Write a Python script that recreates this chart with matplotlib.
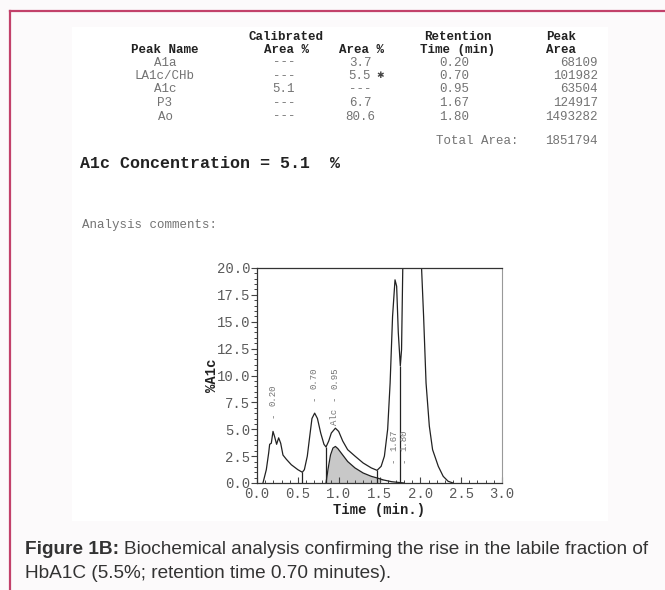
import matplotlib
matplotlib.use("Agg")
import matplotlib.pyplot as plt
from matplotlib.patches import Rectangle
from matplotlib.lines import Line2D
from matplotlib.ticker import MultipleLocator, FormatStrFormatter

W, H = 665, 590

# report table
peak_names = ["A1a", "LA1c/CHb", "A1c", "P3", "Ao"]
calibrated_area = ["---", "---", "5.1", "---", "---"]
area_pct = ["3.7", "5.5", "---", "6.7", "80.6"]
retention_times = ["0.20", "0.70", "0.95", "1.67", "1.80"]
peak_areas = ["68109", "101982", "63504", "124917", "1493282"]
total_area = "1851794"
a1c_conc = "5.1"

# chromatogram trace (time in min, %A1c)
trace_t = [0.073, 0.114, 0.143, 0.155, 0.175, 0.196, 0.216, 0.24, 0.265, 0.29,
           0.318, 0.36, 0.42, 0.50, 0.555, 0.58, 0.616, 0.645, 0.673, 0.706,
           0.74, 0.78, 0.82, 0.845, 0.878, 0.91, 0.96, 1.00, 1.05, 1.11,
           1.20, 1.30, 1.40, 1.47, 1.52, 1.56, 1.60, 1.63, 1.66, 1.69,
           1.71, 1.73, 1.755, 1.77, 1.785, 2.015, 2.04, 2.07, 2.11, 2.15,
           2.22, 2.28, 2.34, 2.40]
trace_y = [0.0, 1.24, 2.8, 3.6, 3.7, 4.8, 4.3, 3.6, 4.2, 3.7,
           2.6, 2.2, 1.7, 1.24, 1.0, 1.24, 2.5, 4.3, 6.0, 6.5,
           6.0, 4.65, 3.6, 3.35, 3.9, 4.65, 5.1, 4.8, 3.9, 3.1,
           2.5, 1.86, 1.4, 1.18, 1.55, 2.5, 5.0, 9.3, 15.5, 18.9,
           18.3, 14.0, 10.9, 12.4, 20.0, 20.0, 15.5, 9.3, 5.3, 3.1,
           1.55, 0.62, 0.16, 0.0]

# A1c peak after deconvolution (shaded part up to 1.47 min)
a1c_t = [0.845, 0.87, 0.90, 0.93, 0.96, 0.99, 1.03, 1.11, 1.20, 1.30,
         1.40, 1.47, 1.55, 1.65, 1.80]
a1c_y = [0.0, 1.3, 2.6, 3.25, 3.4, 3.2, 2.8, 2.0, 1.4, 0.93,
         0.62, 0.47, 0.28, 0.12, 0.0]
a1c_end = 1.47

# drop lines between peaks
split_t = [0.555, 0.845, 1.47, 1.755]
split_y = [1.0, 3.35, 1.18, 10.9]

# peak markers
label_t = [0.20, 0.70, 0.95, 1.67, 1.80]
label_y = [6.3, 7.85, 7.85, 2.1, 2.1]

mono = "Liberation Mono"
dark = "#222222"
grey = "#737373"


def fx(x):
    return x / W


def fy(y):
    return 1 - y / H


fig = plt.figure(figsize=(W / 100, H / 100), dpi=100, facecolor="#fcfafb")

# white report panel and page border
fig.patches.append(Rectangle((fx(72), fy(521)), (608 - 72) / W, (521 - 27) / H,
                             transform=fig.transFigure, facecolor="white",
                             edgecolor="none", zorder=-10))
fig.add_artist(Line2D([fx(10), 1], [fy(11), fy(11)], color="#c2416a", lw=1.6))
fig.add_artist(Line2D([fx(10), fx(10)], [fy(11), 0], color="#c2416a", lw=1.6))

# table headers
hdr = dict(family=mono, fontsize=9, fontweight="bold", color=dark, va="center")
fig.text(fx(286), fy(37), "Calibrated", ha="center", **hdr)
fig.text(fx(458), fy(37), "Retention", ha="center", **hdr)
fig.text(fx(546), fy(37), "Peak", ha="left", **hdr)
fig.text(fx(165), fy(50), "Peak Name", ha="center", **hdr)
fig.text(fx(286), fy(50), "Area %", ha="center", **hdr)
fig.text(fx(362), fy(50), "Area %", ha="center", **hdr)
fig.text(fx(457), fy(50), "Time (min)", ha="center", **hdr)
fig.text(fx(546), fy(50), "Area", ha="left", **hdr)

row = dict(family=mono, fontsize=9, color=grey, va="center")
row_y = [62.5, 76, 89.5, 103, 116.5]
for i, yy in enumerate(row_y):
    fig.text(fx(165), fy(yy), peak_names[i], ha="center", **row)
    fig.text(fx(284), fy(yy), calibrated_area[i], ha="center", **row)
    fig.text(fx(360), fy(yy), area_pct[i], ha="center", **row)
    fig.text(fx(454), fy(yy), retention_times[i], ha="center", **row)
    fig.text(fx(598), fy(yy), peak_areas[i], ha="right", **row)
fig.text(fx(376), fy(row_y[1]), "\u2731", ha="left", va="center",
         fontsize=6.5, color="#444444")

fig.text(fx(436), fy(141), "Total Area:", ha="left", **row)
fig.text(fx(598), fy(141), total_area, ha="right", **row)

fig.text(fx(80), fy(163), "A1c Concentration = " + a1c_conc + "  %", ha="left",
         va="center", family=mono, fontsize=12, fontweight="bold", color=dark)
fig.text(fx(82), fy(225), "Analysis comments:", ha="left", va="center",
         family=mono, fontsize=9, color=grey)

# chromatogram
ax = fig.add_axes([fx(257), fy(483), (502 - 257) / W, (483 - 268) / H])
ax.set_facecolor("white")
ax.fill_between(a1c_t, a1c_y, where=[t <= a1c_end for t in a1c_t],
                color="#c8c8c8", lw=0, interpolate=True)
ax.plot(a1c_t, a1c_y, color=dark, lw=0.9)
ax.plot(trace_t, trace_y, color=dark, lw=0.9)
ax.vlines(split_t, 0, split_y, color=dark, lw=0.9)

for t, d, name in zip(label_t, label_y, retention_times):
    ax.text(t, d, "-", rotation=90, ha="center", va="center", family=mono,
            fontsize=6.5, color=grey)
    ax.text(t, d + 0.9, name, rotation=90, ha="center", va="bottom",
            family=mono, fontsize=6.5, color=grey)
ax.text(label_t[2], 5.4, "Alc", rotation=90, ha="center", va="bottom",
        family=mono, fontsize=6.5, color=grey)

ax.set_xlim(0, 3.0)
ax.set_ylim(0, 20.0)
ax.xaxis.set_major_locator(MultipleLocator(0.5))
ax.xaxis.set_minor_locator(MultipleLocator(0.1))
ax.yaxis.set_major_locator(MultipleLocator(2.5))
ax.yaxis.set_minor_locator(MultipleLocator(0.5))
ax.xaxis.set_major_formatter(FormatStrFormatter("%.1f"))
ax.yaxis.set_major_formatter(FormatStrFormatter("%.1f"))
ax.tick_params(axis="x", which="major", direction="in", length=4, width=0.8,
               colors="#444444", labelcolor="#5a5a5a", labelsize=10, pad=3)
ax.tick_params(axis="x", which="minor", direction="in", length=2, width=0.7,
               colors="#444444")
ax.tick_params(axis="y", which="major", direction="out", length=4, width=0.8,
               colors="#444444", labelcolor="#5a5a5a", labelsize=10, pad=1)
ax.tick_params(axis="y", which="minor", direction="out", length=2, width=0.7,
               colors="#444444")
for lab in ax.get_xticklabels() + ax.get_yticklabels():
    lab.set_family(mono)
for side in ["left", "bottom", "top"]:
    ax.spines[side].set_color("#333333")
    ax.spines[side].set_linewidth(0.9)
ax.spines["right"].set_color("#999999")
ax.spines["right"].set_linewidth(0.8)

ax.set_xlabel("Time (min.)", family=mono, fontsize=10, fontweight="bold",
              color=dark, labelpad=1)
ax.set_ylabel("%A1c", family=mono, fontsize=10, fontweight="bold",
              color=dark, labelpad=-2)

# caption: bold label followed by regular text
cap = dict(va="center", family="Liberation Sans", fontsize=13.7, color="#333333")
lead = fig.text(fx(25), fy(550), "Figure 1B:", ha="left", fontweight="bold", **cap)
fig.canvas.draw()
lead_end = lead.get_window_extent().x1 / W
fig.text(lead_end + 5 / W, fy(550),
         "Biochemical analysis confirming the rise in the labile fraction of",
         ha="left", **cap)
fig.text(fx(25), fy(574), "HbA1C (5.5%; retention time 0.70 minutes).",
         ha="left", **cap)

fig.savefig("out.png", dpi=100, facecolor=fig.get_facecolor())
